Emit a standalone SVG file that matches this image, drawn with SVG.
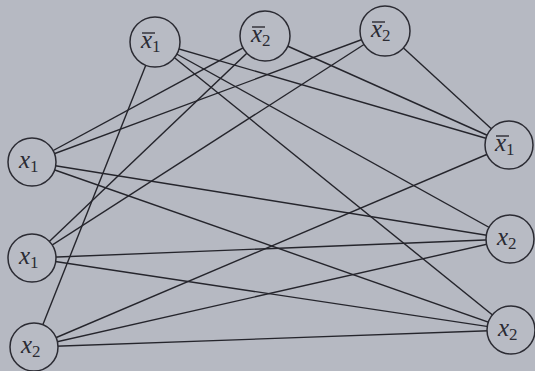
<svg xmlns="http://www.w3.org/2000/svg" width="535" height="371" viewBox="0 0 535 371">
<style>
.bg{fill:#b6b9c2}
.n{fill:#b8bbc4;stroke:#2b2b33;stroke-width:1.5}
.e{stroke:#25252c;stroke-width:1.4;fill:none}
.bar{stroke:#2b2b33;stroke-width:1.4}
</style>
<rect class="bg" x="0" y="0" width="535" height="371"/>
<g id="edges">
<line class="e" x1="155" y1="42" x2="34" y2="347"/>
<line class="e" x1="155" y1="42" x2="509" y2="145"/>
<line class="e" x1="155" y1="42" x2="510" y2="239"/>
<line class="e" x1="155" y1="42" x2="511" y2="330"/>
<line class="e" x1="265" y1="36" x2="32" y2="162"/>
<line class="e" x1="265" y1="36" x2="32" y2="258"/>
<line class="e" x1="265" y1="36" x2="509" y2="145"/>
<line class="e" x1="385" y1="31" x2="32" y2="162"/>
<line class="e" x1="385" y1="31" x2="32" y2="258"/>
<line class="e" x1="385" y1="31" x2="509" y2="145"/>
<line class="e" x1="32" y1="162" x2="510" y2="239"/>
<line class="e" x1="32" y1="162" x2="511" y2="330"/>
<line class="e" x1="32" y1="258" x2="510" y2="239"/>
<line class="e" x1="32" y1="258" x2="511" y2="330"/>
<line class="e" x1="34" y1="347" x2="509" y2="145"/>
<line class="e" x1="34" y1="347" x2="510" y2="239"/>
<line class="e" x1="34" y1="347" x2="511" y2="330"/>
</g>
<g id="t1">
<circle class="n" cx="155" cy="42" r="25"/>
<line class="bar" x1="142" y1="33" x2="155" y2="33"/>
<text x="141" y="48" font-family="Liberation Serif, serif" font-size="25" fill="#2b2b33"><tspan font-style="italic">x</tspan><tspan font-size="17" dy="4">1</tspan></text>
</g>
<g id="t2">
<circle class="n" cx="265" cy="36" r="25"/>
<line class="bar" x1="252" y1="27" x2="265" y2="27"/>
<text x="251" y="42" font-family="Liberation Serif, serif" font-size="25" fill="#2b2b33"><tspan font-style="italic">x</tspan><tspan font-size="17" dy="4">2</tspan></text>
</g>
<g id="t3">
<circle class="n" cx="385" cy="31" r="25"/>
<line class="bar" x1="372" y1="22" x2="385" y2="22"/>
<text x="371" y="37" font-family="Liberation Serif, serif" font-size="25" fill="#2b2b33"><tspan font-style="italic">x</tspan><tspan font-size="17" dy="4">2</tspan></text>
</g>
<g id="l1">
<circle class="n" cx="32" cy="162" r="24"/>
<text x="19" y="168" font-family="Liberation Serif, serif" font-size="25" fill="#2b2b33"><tspan font-style="italic">x</tspan><tspan font-size="17" dy="4">1</tspan></text>
</g>
<g id="l2">
<circle class="n" cx="32" cy="258" r="24"/>
<text x="19" y="264" font-family="Liberation Serif, serif" font-size="25" fill="#2b2b33"><tspan font-style="italic">x</tspan><tspan font-size="17" dy="4">1</tspan></text>
</g>
<g id="l3">
<circle class="n" cx="34" cy="347" r="24"/>
<text x="21" y="353" font-family="Liberation Serif, serif" font-size="25" fill="#2b2b33"><tspan font-style="italic">x</tspan><tspan font-size="17" dy="4">2</tspan></text>
</g>
<g id="r1">
<circle class="n" cx="509" cy="145" r="24"/>
<line class="bar" x1="496" y1="136" x2="509" y2="136"/>
<text x="495" y="151" font-family="Liberation Serif, serif" font-size="25" fill="#2b2b33"><tspan font-style="italic">x</tspan><tspan font-size="17" dy="4">1</tspan></text>
</g>
<g id="r2">
<circle class="n" cx="510" cy="239" r="24"/>
<text x="497" y="245" font-family="Liberation Serif, serif" font-size="25" fill="#2b2b33"><tspan font-style="italic">x</tspan><tspan font-size="17" dy="4">2</tspan></text>
</g>
<g id="r3">
<circle class="n" cx="511" cy="330" r="24"/>
<text x="498" y="336" font-family="Liberation Serif, serif" font-size="25" fill="#2b2b33"><tspan font-style="italic">x</tspan><tspan font-size="17" dy="4">2</tspan></text>
</g>
</svg>
